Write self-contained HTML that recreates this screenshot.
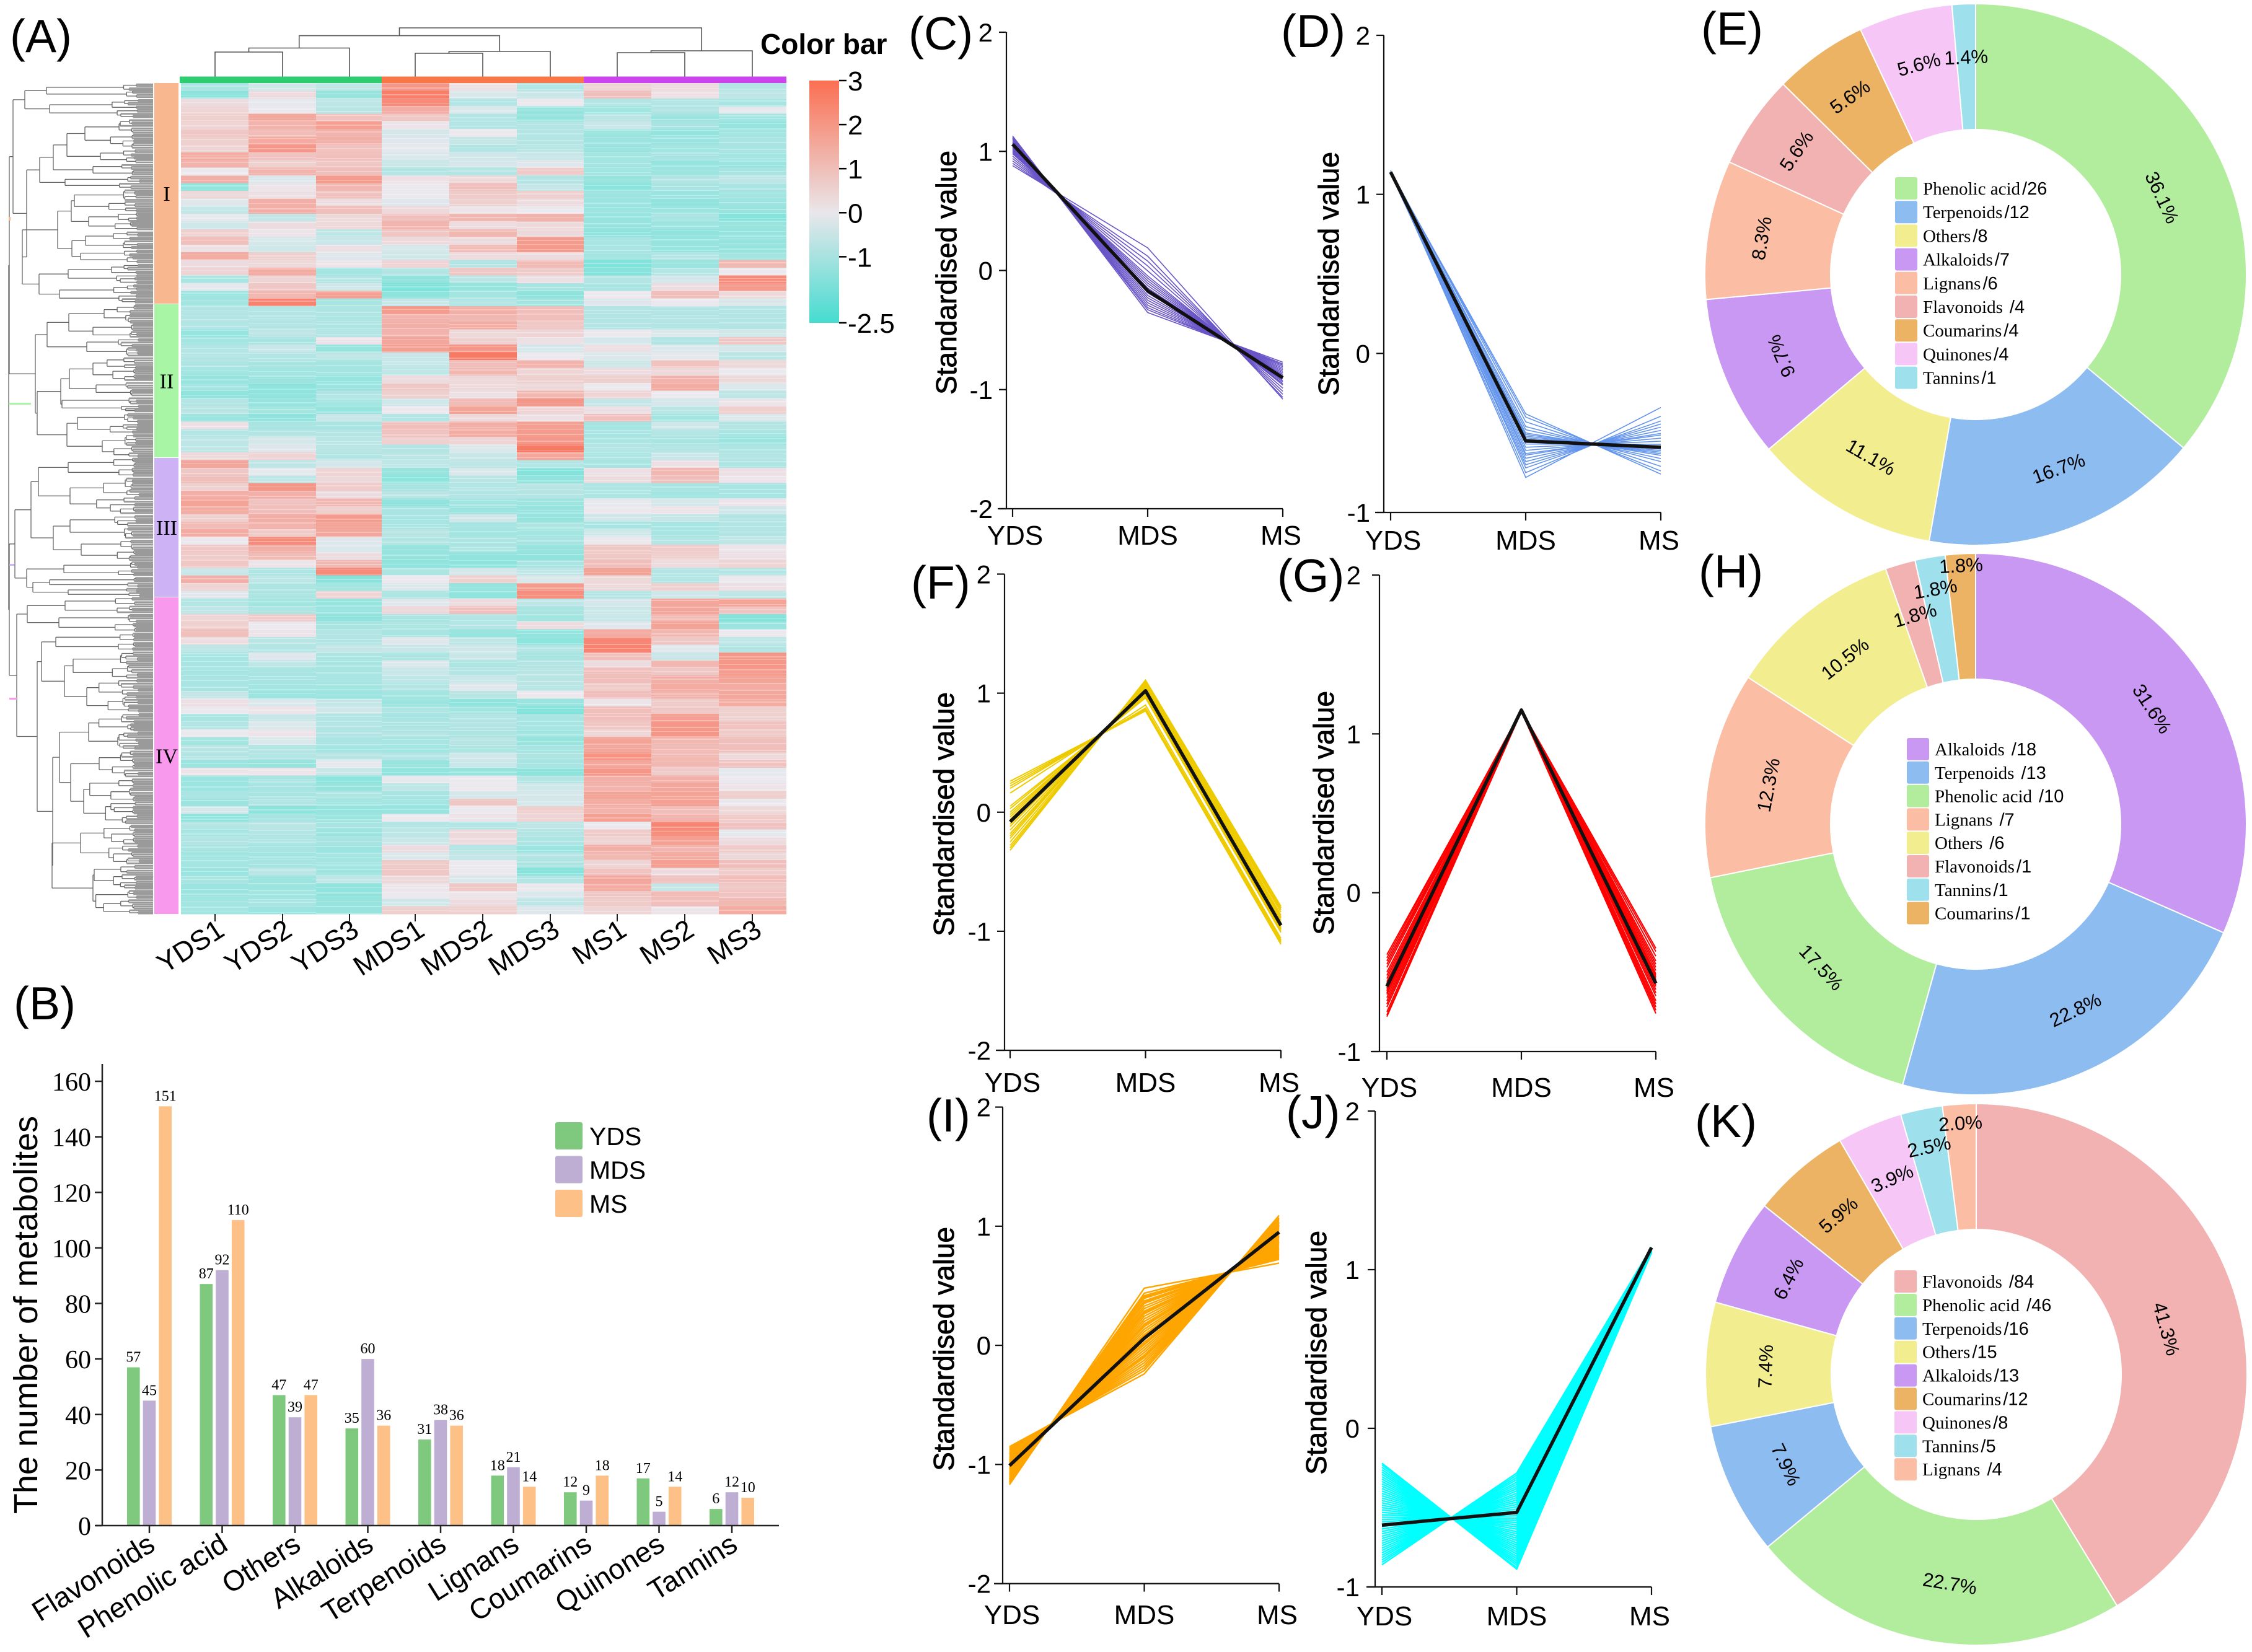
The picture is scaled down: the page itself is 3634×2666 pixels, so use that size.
<!DOCTYPE html>
<html lang="en">
<head>
<meta charset="utf-8">
<title>Metabolite heatmap, clusters and class composition</title>
<style>
html,body{margin:0;padding:0;background:#fff;}
svg{display:block;font-family:"Liberation Sans",Arial,sans-serif;}
</style>
</head>
<body>
<svg id="figure" xmlns="http://www.w3.org/2000/svg" width="3634" height="2666" viewBox="0 0 3634 2666">
<defs id="defs">
<linearGradient id="cbar" x1="0" y1="0" x2="0" y2="1">
<stop offset="0" stop-color="#fb6f52"/>
<stop offset="0.545" stop-color="#e9e6ea"/>
<stop offset="1" stop-color="#45dcd0"/>
</linearGradient>
</defs>
<rect x="0" y="0" width="3634" height="2666" fill="#fff"/>
<g font-size="75" fill="#000">
<text x="16" y="84">(A)</text>
<text x="22" y="1645">(B)</text>
<text x="1466" y="80">(C)</text>
<text x="2067" y="76">(D)</text>
<text x="2745" y="72">(E)</text>
<text x="1470" y="966">(F)</text>
<text x="2061" y="955">(G)</text>
<text x="2741" y="948">(H)</text>
<text x="1495" y="1826">(I)</text>
<text x="2075" y="1821">(J)</text>
<text x="2735" y="1835">(K)</text>
</g>
<text x="1227" y="87" font-size="46" font-weight="bold">Color bar</text>
</svg>
<script>
/* ---------- heatmap data (z-scores) ---------- */
const heatColumns = ['YDS1','YDS2','YDS3','MDS1','MDS2','MDS3','MS1','MS2','MS3'];
const colorbarTicks = [3,2,1,0,-1,-2.5];
const clusterNames = ['I','II','III','IV'];
const heatRows = [
[-1.2,-.5,-.8,2,.2,-1,.5,.3,-1],[-1.7,.3,-1.5,2.6,-.3,-.6,1,.2,-.8],[.3,-.1,-.8,2.3,-1,0,-1,-1,-1.2],[.5,0,-.9,1.5,-.3,-1.5,-1.3,-1,-.1],
[.6,1.6,.9,.8,-1,-1.5,-.9,-1.4,-1.3],[.5,1.3,1.8,.1,-1,-1,-.6,-1.2,-1.5],[.8,1.1,1.3,-.4,0,-1,-1.4,-1.5,-1.3],[.6,1.5,1.4,-.2,-.7,-1,-1.4,-1.4,-1.2],
[.5,2,.9,-.1,-1,-.9,-1.4,-1.3,-1.2],[1.5,.9,1,-.3,-.5,-.6,-1.3,-1.2,-1.3],[1.3,.6,.8,-.6,-.4,-.2,-1.3,-1.5,-1.4],[0,1.3,1,-1,-1,.7,-1.3,-1.4,-1.2],
[1.4,-.3,1.9,.2,.4,-1,-1.5,-1,-.8],[-1.6,.1,1.2,0,1,-.7,-1.7,-1.2,-1.2],[.4,.2,.9,0,.7,.6,-1.4,-1.4,-1.3],[-.2,1.4,.3,-.2,.6,.3,-1.4,-1.6,-1.4],
[-.7,1.4,1,.4,.1,0,-1.4,-1.4,-1.5],[-.1,-.7,.4,1,1.2,1.3,-1.5,-1.2,-1.8],[-.5,.3,.4,1.3,.3,.4,-1.5,-1.4,-1.5],[.6,.1,-.8,.8,1.2,.4,-1.6,-1.6,-1.5],
[1,-.4,-.6,.4,.3,1.9,-1.2,-1.5,-1.5],[.2,-.5,.2,-.4,1.1,1.9,-1.2,-1.5,-1.5],[1.5,.6,-.2,-.5,.3,.3,-1.3,-1,-1.3],[.3,.4,.1,.5,-1,1.1,-1.9,-1.4,1.2],
[.5,1.5,-1.3,-1,.8,.7,-1.8,-1,0],[-1.2,.5,-1,-1.6,-.9,.2,-1,-.4,2.3],[-.1,.8,-.5,-1.9,-1.5,-1.2,-1.2,.3,1.9],[-1.4,1.2,1.8,-1.7,-1.3,-1.6,0,1,.4],
[-1.3,2.5,-1.2,-.7,-1,-1.3,-.2,0,-.3],[-1,-1,-1.1,1.9,1.4,1,-1,-1,-1],[-1,-1,-1.1,1.3,1.2,1,-1,-1,-1],[-1,-1,-1.1,1.4,1.5,.8,-1,-1,-1],
[-1.5,-.8,-1,1.3,.4,.5,0,-.3,-.5],[-1.3,-1.2,.1,1.6,.6,.2,-.4,-1,.8],[-1,-.6,-1.5,1.8,2,-.4,.2,-.3,-.4],[-1,-1,-.8,-.6,2.7,0,-.3,-.1,-.9],

[-1.1,-1.2,-1.3,-.7,1,1.3,-.5,.9,.4],[-1.3,-1.3,-1.3,-.8,1.2,.5,.3,.4,0],[-1.5,-1.4,-1.5,.3,.4,.6,.6,1.3,.4],[-1.3,-1.7,-1.4,.8,.4,.4,0,1.5,-.3],
[-1.6,-1.6,-1,.6,.2,1.2,.5,0,-.8],[-1,-1.5,-1.3,-.5,1.1,2,-.7,-.4,.1],[-.9,-1.3,-1.5,0,1.7,.5,.2,-.9,.6],[-1.4,-1.6,-.6,-1,.4,.2,1,-1.3,-.3],
[.2,-1.2,-1.2,1,1.4,1.8,-1.3,-.5,-1],[-1,-1,-1,.9,1.5,1.9,-1.2,-1,-1.2],[-.8,-.4,-.9,.6,.5,2,-1.1,-1.2,-1.4],[-.8,-.2,-.9,-1,-.3,2.7,-1,-1,-1.1],
[.4,.5,-1,-.9,-.6,1.6,-1.1,-.6,-1],[1.6,-.8,-.4,-.8,-.8,-1,-1.2,.2,-1.1],[.8,-.1,.5,-1.5,-.3,-1.8,.2,1.2,.2],[1,-.8,.4,-1.7,-.9,-1.6,.3,1,.1],
[.6,2,.7,-1.2,-1,-.9,-1.1,-1.2,-1.2],[1.4,1.4,.3,-.9,-1,-1,-1.1,-1.3,-1.2],[1.7,.9,1.2,-1.6,-1.3,-1.4,-.1,-.4,.1],[1.5,1,.6,-1.2,-1.4,-1.5,0,.1,-.5],
[.6,1.4,1.9,-1.2,-.5,-1.5,-.5,-.7,-1],[1.1,1.3,1.7,-1.2,-1.2,-1.1,-1.2,-1.2,-1],[1.5,.7,1.6,-.9,-1.3,-1.3,-.5,-1.2,-1],[0,2.3,-.2,-1,-1.1,-1.2,0,-1,-.8],
[.8,1.4,-.3,-1.5,-1.1,-1.5,.8,.7,.1],[.7,1.1,.3,-1.5,-1.6,-1.6,.8,.6,.2],[.8,.1,1.2,-1.6,-1.7,-1.2,1,.3,.5],[-.6,-1.1,2.3,-1.1,-.4,-.8,1.7,-1,-1],
[1.4,-.8,-1.8,0,.6,-.3,.4,-1,0],[.5,-1.1,-1.3,-.3,-1.5,1.9,.4,.6,.2],[-.2,-1.1,.5,-1.1,-1.6,2.2,-1,-.5,-.8],[-1,-1.3,-1.5,-.2,.3,-.8,-.4,1.6,1.7],
[-.8,-1.1,-1.4,.4,1,-1.2,-.6,1.6,.9],[.5,.7,-1.6,-1.2,-1,-1.3,-.6,1.2,-1.8],[.6,0,-1.2,-1.1,-1,.3,-.2,1.7,-1.4],[1,.1,-1,-1.2,-1.5,-1.6,1.5,1.2,0],

[.3,-.9,-1,-.2,-.8,-1.7,2.4,.8,-.8],[-.8,-1,-.7,-.6,-.5,-1,2.5,-.2,-1],[-1.2,-.2,-1.1,-1.1,-.6,-1.2,1,-.6,2],[-1.2,-.8,-1.2,-.3,-1.1,-1,.3,1.2,2],
[-1.2,-1.2,-1.2,-.6,-1,-.9,1,.8,1.9],[-1.2,-1.2,-1.2,-.8,-.6,-.9,1,1.4,1.7],[-1.2,-1.3,-1.3,-1,-.2,-.9,.7,1.5,1.5],[-.7,-1.4,-1.4,-1.3,-.9,0,1,1.3,1.6],
[.2,-.3,-.7,-1.4,-1.6,-1.4,.1,.7,1.5],[0,.1,-.5,-1.1,-1.3,-1.9,1,.8,.6],[-1.2,-.6,-1,-1.2,-1,-1.2,1,1.8,.6],[-1,-.3,-1,-1.1,-1,-1.2,.8,2,.9],
[0,.1,-1,-1,-1.1,-1.3,.5,2,.7],[-1.3,-.3,-1.2,-1.2,-.9,-1.5,1.7,1.2,1],[-.9,-1,-1.3,-1.3,-1.1,-1.2,1.6,1.1,1],[-1,-1,-.9,-1,-.5,-1.1,2.1,1.2,.4],
[-1.4,-1.5,-.1,-1.5,-.6,-1.2,1.6,1.2,.9],[.1,.1,-.6,-1.6,-1.5,-1.7,2,.7,-.1],[-1.4,-1.2,-1.7,-.1,0,-1,1.4,1.4,0],[-1.4,-1.2,-1.5,-.8,0,-.5,1.3,1.6,.1],
[-1.2,-1.2,-1.1,-1.2,-.4,-.4,1.7,1.7,.6],[-1.4,-1,-1.3,-1.3,.8,-.4,1.5,1.8,0],[-.4,-1.7,-1.5,-1.5,0,.6,1.3,1,.4],[-1.6,-1.2,-1.4,0,.1,.5,1.8,1.3,.7],
[-1,-.9,-1.2,-1,-1,-.8,0,2.4,.9],[-1.2,-1,-1.4,-.8,.4,-1,.7,2.2,-.1],[-1,-1.1,-1.2,-.6,.3,-1.1,.5,1.8,.3],[-1.2,-1.2,-1.4,.3,-1,-1.4,1.4,1.3,.7],
[-1.3,-1.3,-1.3,-.3,-.7,-1,1.2,1.5,.4],[-1.3,-1.2,-1.3,.7,0,-1.1,.5,1.8,1],[-1.4,-.9,-1.3,.8,0,-1.8,.9,.3,.7],[-1.2,-1.4,-.8,.4,-.3,-1,1.6,.9,1],
[-1.4,-1.4,-1.6,.1,.8,0,1.5,-.7,.8],[-1.4,-1.3,-1.6,0,.1,-.3,.8,1.1,.9],[-1.3,-1.2,-1.5,-.5,.3,-.8,.7,1,1.2],[-1.3,-1.4,-1.5,.6,.6,-.2,.5,.1,1.5]
];

/* ---------- dendrogram branch heights ---------- */
const topTreeLeaves = [347,456,564,670,779,888,996,1105,1214];
const leftTreeI = [21,[40,[75,135,158],[80,160,191]],[43,[64,[86,[108,[137,192,240],[162,241,264]],[150,265,283]],[105,284,305]],[36,[93,[115,[120,306,342],[143,343,372]],[116,[138,373,402],[130,403,425]]],[63,[110,426,458],[96,459,490]]]]];
const leftTreeII = [57,[76,[111,[168,491,522],[150,523,545]],[140,546,575]],[60,[98,[112,[150,576,615],[155,616,640]],[100,641,665]],[108,[125,666,700],[165,701,738]]]];
const leftTreeIII = [24,[50,[62,[110,739,770],[113,771,830]],[86,[113,831,870],[131,871,905]]],[43,[103,906,930],[53,[80,931,948],[110,949,963]]]];
const leftTreeIV = [27,[44,[105,964,990],[95,991,1020]],[60,[67,[90,1021,1050],[104,[118,1051,1095],[140,1096,1150]]],[85,[96,[143,1151,1210],[114,[160,1211,1255],[135,1256,1330]]],[84,[130,1331,1395],[150,1396,1475]]]]];
const combSplits = [.5,.38,.62,.45,.3,.55,.7,.42,.58,.35];
const combJitter = [1,.8,1.15,.9,1.05,.75,1.2];

/* ---------- bar chart data ---------- */
const barCategories = ['Flavonoids','Phenolic acid','Others','Alkaloids','Terpenoids','Lignans','Coumarins','Quinones','Tannins'];
const barYDS = [57,87,47,35,31,18,12,17,6];
const barMDS = [45,92,39,60,38,21,9,5,12];
const barMS = [151,110,47,36,36,14,18,14,10];
const barTicks = [0,20,40,60,80,100,120,140,160];
const barSeriesNames = ['YDS','MDS','MS'];

/* ---------- line-cluster data: [YDS, MDS, MS] standardised values ---------- */
const stages = ['YDS','MDS','MS'];
const linesC = [[1.13,-.353,-.77],[1.12,-.33,-.785],[1.11,-.312,-.796],[1.1,-.292,-.808],[1.09,-.271,-.821],[1.08,-.25,-.834],[1.07,-.23,-.847],[1.06,-.209,-.86],[1.05,-.188,-.873],[1.04,-.168,-.885],[1.03,-.147,-.898],[1.02,-.127,-.911],[1.01,-.106,-.924],[1,-.086,-.936],[.99,-.065,-.95],[.98,-.045,-.962],[.96,-.003,-.988],[.94,.038,-1.014],[.92,.079,-1.039],[.9,.12,-1.065],[.88,.19,-1.08]];
const meanC = [1.06,-.17,-.9];
const linesD = [[1.14,-.38,-.759],[1.14,-.4,-.739],[1.15,-.43,-.71],[1.14,-.46,-.68],[1.14,-.48,-.661],[1.13,-.5,-.641],[1.14,-.51,-.631],[1.14,-.52,-.621],[1.15,-.53,-.611],[1.14,-.54,-.602],[1.14,-.55,-.592],[1.14,-.56,-.582],[1.13,-.57,-.572],[1.14,-.59,-.552],[1.14,-.61,-.533],[1.15,-.63,-.513],[1.14,-.64,-.503],[1.14,-.66,-.484],[1.14,-.68,-.464],[1.13,-.7,-.444],[1.14,-.72,-.425],[1.14,-.75,-.395],[1.15,-.78,-.34]];
const meanD = [1.14,-.55,-.59];
const linesF = [[.26,.85,-1.11],[.24,.855,-1.095],[.22,.865,-1.085],[.2,.875,-1.075],[.16,.9,-1.06],[.05,.96,-1.01],[.03,.97,-1],[0,.985,-.985],[-.02,1,-.98],[-.04,1.01,-.97],[-.06,1.02,-.96],[-.08,1.03,-.95],[-.1,1.04,-.94],[-.12,1.05,-.93],[-.15,1.06,-.91],[-.18,1.07,-.89],[-.2,1.08,-.88],[-.22,1.085,-.865],[-.25,1.09,-.84],[-.28,1.1,-.82],[-.3,1.105,-.805],[-.32,1.11,-.79]];
const meanF = [-.08,1.02,-.95];
const linesG = [[-.78,1.14,-.37],[-.75,1.15,-.4],[-.72,1.15,-.43],[-.7,1.15,-.45],[-.68,1.15,-.47],[-.66,1.15,-.49],[-.64,1.15,-.51],[-.63,1.155,-.52],[-.62,1.15,-.53],[-.61,1.15,-.54],[-.6,1.15,-.55],[-.59,1.15,-.56],[-.58,1.15,-.57],[-.57,1.15,-.58],[-.56,1.15,-.59],[-.54,1.15,-.61],[-.52,1.15,-.63],[-.5,1.15,-.65],[-.47,1.15,-.68],[-.45,1.15,-.7],[-.43,1.14,-.72],[-.41,1.15,-.74],[-.39,1.14,-.76],[-.77,1.15,-.35]];
const meanG = [-.59,1.15,-.57];
const linesI = [[-1.17,.48,.69],[-1.16,.438,.722],[-1.15,.417,.733],[-1.145,.406,.739],[-1.14,.395,.745],[-1.13,.373,.757],[-1.125,.363,.762],[-1.12,.352,.768],[-1.11,.33,.78],[-1.1,.309,.791],[-1.09,.287,.803],[-1.085,.276,.809],[-1.08,.265,.815],[-1.07,.244,.826],[-1.06,.222,.838],[-1.05,.2,.85],[-1.04,.179,.861],[-1.035,.168,.867],[-1.03,.157,.873],[-1.02,.135,.885],[-1.01,.114,.896],[-1,.092,.908],[-.995,.081,.914],[-.99,.07,.92],[-.98,.049,.931],[-.97,.027,.943],[-.965,.016,.949],[-.96,.005,.955],[-.95,-.016,.966],[-.94,-.038,.978],[-.93,-.06,.99],[-.92,-.081,1.001],[-.915,-.092,1.007],[-.91,-.103,1.013],[-.9,-.125,1.025],[-.89,-.146,1.036],[-.88,-.168,1.048],[-.87,-.19,1.06],[-.86,-.211,1.071],[-.85,-.24,1.09]];
const meanI = [-1.01,.06,.95];
const linesJ = [[-.86,-.282,1.142],[-.845,-.296,1.14],[-.83,-.31,1.14],[-.815,-.324,1.139],[-.8,-.339,1.139],[-.785,-.353,1.138],[-.77,-.367,1.137],[-.755,-.381,1.136],[-.74,-.395,1.135],[-.725,-.41,1.135],[-.71,-.424,1.134],[-.695,-.438,1.133],[-.68,-.452,1.132],[-.665,-.466,1.131],[-.65,-.48,1.13],[-.635,-.495,1.13],[-.62,-.509,1.129],[-.605,-.523,1.128],[-.59,-.537,1.127],[-.575,-.551,1.126],[-.56,-.566,1.126],[-.545,-.58,1.125],[-.53,-.594,1.124],[-.515,-.608,1.123],[-.5,-.622,1.122],[-.485,-.636,1.121],[-.47,-.651,1.121],[-.455,-.665,1.12],[-.44,-.679,1.119],[-.425,-.693,1.118],[-.41,-.707,1.117],[-.395,-.722,1.117],[-.38,-.736,1.116],[-.365,-.75,1.115],[-.35,-.764,1.114],[-.335,-.778,1.113],[-.32,-.792,1.112],[-.305,-.807,1.112],[-.29,-.821,1.111],[-.275,-.835,1.11],[-.26,-.849,1.109],[-.245,-.863,1.108],[-.23,-.878,1.108],[-.22,-.887,1.107]];
const meanJ = [-.61,-.53,1.14];

/* ---------- donut data ---------- */
const classColors = {'Phenolic acid':'#b2ed9d','Terpenoids':'#8dbcf1','Others':'#f2ed8e','Alkaloids':'#c998f3','Lignans':'#fcbda5','Flavonoids':'#f3b2b2','Coumarins':'#ebb363','Quinones':'#f6c6f6','Tannins':'#9ee0eb'};
const namesE = ['Phenolic acid','Terpenoids','Others','Alkaloids','Lignans','Flavonoids','Coumarins','Quinones','Tannins'];
const countsE = [26,12,8,7,6,4,4,4,1];
const percentE = [36.1,16.7,11.1,9.7,8.3,5.6,5.6,5.6,1.4];
const namesH = ['Alkaloids','Terpenoids','Phenolic acid','Lignans','Others','Flavonoids','Tannins','Coumarins'];
const countsH = [18,13,10,7,6,1,1,1];
const percentH = [31.6,22.8,17.5,12.3,10.5,1.8,1.8,1.8];
const namesK = ['Flavonoids','Phenolic acid','Terpenoids','Others','Alkaloids','Coumarins','Quinones','Tannins','Lignans'];
const countsK = [84,46,16,15,13,12,8,5,4];
const percentK = [41.3,22.7,7.9,7.4,6.4,5.9,3.9,2.5,2.0];

/* ---------- helpers ---------- */
const NS = 'http://www.w3.org/2000/svg';
const fig = document.getElementById('figure');
function el(tag, attrs, parent) {
  const e = document.createElementNS(NS, tag);
  for (const k in attrs) e.setAttribute(k, attrs[k]);
  (parent || fig).appendChild(e);
  return e;
}
function linear(d0, d1, r0, r1) { return v => r0 + (v - d0) * (r1 - r0) / (d1 - d0); }

/* ---------- panel A: heatmap ---------- */
const heatLeft = 292, heatRight = 1269, heatTop = 134, heatBottom = 1475;
const colEdges = [292,401,510,616,725,834,942,1051,1160,1269];
const rowY = linear(0, heatRows.length, heatTop, heatBottom);
const stopNeg = [64,224,208], stopMid = [235,232,238], stopPos = [250,110,85];
function heatColor(v) {
  let c;
  if (v < 0) { const t = Math.min(1, -v * .82 / 2.5); c = stopMid.map((m, i) => m + (stopNeg[i] - m) * t); }
  else { const t = Math.min(1, v / 3); c = stopMid.map((m, i) => m + (stopPos[i] - m) * t); }
  return 'rgb(' + c.map(Math.round).join(',') + ')';
}
const heatGroup = el('g', {'shape-rendering':'crispEdges'});


heatRows.forEach((row, r) => {
  row.forEach((v, c) => {
    const cell = el('rect', {x: colEdges[c], y: rowY(r), width: colEdges[c + 1] - colEdges[c], height: rowY(r + 1) - rowY(r) + .5, fill: heatColor(v)}, heatGroup);
    
    
  });
});
/* fine row striping texture */
const defs = document.getElementById('defs');
heatColumns.forEach((name, c) => {
  const p = el('pattern', {id: 'st' + c, width: 977, height: 97, patternUnits: 'userSpaceOnUse', patternTransform: 'translate(0,' + (c * 37 + 134) + ')'}, defs);
  [4,11,19,23,31,40,47,52,60,68,75,83,90].forEach((y, i) => {
    el('rect', {x: 0, y: y, width: 977, height: i % 3 === 0 ? 2 : 1, fill: '#fff', opacity: .28}, p);
  });
  const tex = el('rect', {x: colEdges[c], y: heatTop, width: colEdges[c + 1] - colEdges[c], height: heatBottom - heatTop, fill: 'url(#st' + c + ')'});
  
  
});
/* column group bar */
[[290,616,'#2ecc71'],[616,942,'#f97646'],[942,1269,'#cb44ee']].forEach(g => {
  const r = el('rect', {x: g[0], y: 123.5, width: g[1] - g[0], height: 10.5, fill: g[2]});
  
  
});
/* cluster annotation bar */
[[134,490,'#f9b78f'],[491,738,'#a8f5a5'],[739,963,'#cdb2f5'],[964,1475,'#f899ee']].forEach((s, i) => {
  const r = el('rect', {x: 249, y: s[0], width: 39, height: s[1] - s[0], fill: s[2]});
  
  
  const t = el('text', {x: 269, y: (s[0] + s[1]) / 2 + 12, 'font-size': 34, 'font-family': '"Liberation Serif",serif', 'text-anchor': 'middle'});
  t.textContent = clusterNames[i];
  
  
});
/* heatmap column ticks + labels */
heatColumns.forEach((name, i) => {
  const x = topTreeLeaves[i];
  const tk = el('line', {x1: x, x2: x, y1: 1475, y2: 1487, stroke: '#222', 'stroke-width': 2});
  
  
  const t = el('text', {transform: 'translate(' + (x + 18) + ',1508) rotate(-33)', 'font-size': 45, 'text-anchor': 'end'});
  t.textContent = name;
  
  
});
/* top dendrogram, merges drawn bottom-up */
let topD = '';
function bracket(xa, ya, xb, yb, h) { return 'M' + xa + ' ' + ya + 'V' + h + 'H' + xb + 'V' + yb; }
const leafBase = 123.5, L = topTreeLeaves;
topD += bracket(L[0], leafBase, L[1], leafBase, 84);
const n1 = (L[0] + L[1]) / 2;
topD += bracket(n1, 84, L[2], leafBase, 77.5);
const n2 = (n1 + L[2]) / 2;
topD += bracket(L[3], leafBase, L[4], leafBase, 86);
const n3 = (L[3] + L[4]) / 2;
topD += bracket(n3, 86, L[5], leafBase, 83);
const n4 = (n3 + L[5]) / 2;
topD += bracket(L[6], leafBase, L[7], leafBase, 85);
const n5 = (L[6] + L[7]) / 2;
topD += bracket(n5, 85, L[8], leafBase, 82);
const n6 = (n5 + L[8]) / 2;
topD += bracket(n2, 77.5, n4, 83, 57.6);
const n7 = (n2 + n4) / 2;
topD += bracket(n7, 57.6, n6, 82, 45);
const topTree = el('path', {d: topD, fill: 'none', stroke: '#555', 'stroke-width': 1.6});


/* left dendrogram */
let branchD = '', leafD = '', splitIdx = 0, jitIdx = 0;
const leafEnd = 247, rowStep = 3.1;
function comb(x0, y0, y1) {
  const h = y1 - y0;
  if (h <= rowStep * 1.4) {
    const y = (y0 + y1) / 2;
    leafD += 'M' + x0.toFixed(1) + ' ' + y.toFixed(1) + 'H' + leafEnd;
    return y;
  }
  const s = combSplits[splitIdx++ % combSplits.length];
  const j = combJitter[jitIdx++ % combJitter.length];
  const nx = Math.max(x0 + 2, leafEnd - 14 * Math.sqrt(h) * j);
  const ym = y0 + h * s;
  const ya = comb(nx, y0, ym), yb = comb(nx, ym, y1);
  const y = (ya + yb) / 2;
  branchD += 'M' + x0.toFixed(1) + ' ' + y.toFixed(1) + 'H' + nx.toFixed(1) + 'M' + nx.toFixed(1) + ' ' + ya.toFixed(1) + 'V' + yb.toFixed(1);
  return y;
}
function walk(node, parentX) {
  if (typeof node[1] === 'number') {
    const h = node[2] - node[1], s = .5;
    const ym = node[1] + h * s;
    const ya = comb(node[0], node[1], ym), yb = comb(node[0], ym, node[2]);
    const y = (ya + yb) / 2;
    branchD += 'M' + node[0] + ' ' + ya.toFixed(1) + 'V' + yb.toFixed(1) + 'M' + parentX + ' ' + y.toFixed(1) + 'H' + node[0];
    return y;
  }
  const ya = walk(node[1], node[0]), yb = walk(node[2], node[0]);
  const y = (ya + yb) / 2;
  branchD += 'M' + node[0] + ' ' + ya.toFixed(1) + 'V' + yb.toFixed(1) + 'M' + parentX + ' ' + y.toFixed(1) + 'H' + node[0];
  return y;
}
walk([14,[15,leftTreeI,leftTreeII],[15,leftTreeIII,leftTreeIV]], 14);
const leftBranches = el('path', {d: branchD, fill: 'none', stroke: '#666', 'stroke-width': 1.3});


const leftLeaves = el('path', {d: leafD, fill: 'none', stroke: '#9a9a9a', 'stroke-width': 2.8});


[[14,350,3,6,'#f9b78f'],[14,650,36,3,'#a8f5a5'],[15,910,8,3,'#cdb2f5'],[15,1126,12,3,'#f899ee']].forEach(m => {
  const r = el('rect', {x: m[0], y: m[1], width: m[2], height: m[3], fill: m[4]});
  
  
});
/* colour bar */
const cbarRect = el('rect', {x: 1306, y: 130, width: 48, height: 391, fill: 'url(#cbar)'});


const cbarY = linear(3, -2.5, 130, 521);
colorbarTicks.forEach(v => {
  const tk = el('line', {x1: 1354, x2: 1366, y1: cbarY(v), y2: cbarY(v), stroke: '#000', 'stroke-width': 2.5});
  
  
  const t = el('text', {x: 1368, y: cbarY(v) + 16, 'font-size': 44});
  t.textContent = v;
  
  
});

/* ---------- panel B: bar chart ---------- */
const barG = el('g', {});


const barX = linear(0, barCategories.length - 1, 241, 1181);
const barY = linear(0, 160, 2462, 1745);
const barColors = ['#7fc97f','#beaed4','#fdc086'];
[barYDS, barMDS, barMS].forEach((series, s) => {
  series.forEach((v, i) => {
    const cx = barX(i) + (s - 1) * 25.7;
    const b = el('rect', {x: cx - 10.3, y: barY(v), width: 20.6, height: barY(0) - barY(v), fill: barColors[s]}, barG);
    
    
    const t = el('text', {x: cx, y: barY(v) - 9, 'font-size': 24, 'font-family': '"Liberation Serif",serif', 'text-anchor': 'middle'}, barG);
    t.textContent = v;
    
    
  });
});
const barYAxis = el('line', {x1: 165, x2: 165, y1: 1717, y2: 2462, stroke: '#222', 'stroke-width': 2.5}, barG);


const barXAxis = el('line', {x1: 154, x2: 1257, y1: 2462, y2: 2462, stroke: '#222', 'stroke-width': 2.5}, barG);


barTicks.forEach(v => {
  const tk = el('line', {x1: 153, x2: 165, y1: barY(v), y2: barY(v), stroke: '#222', 'stroke-width': 2.5}, barG);
  
  
  const t = el('text', {x: 147, y: barY(v) + 15, 'font-size': 42, 'font-family': '"Liberation Serif",serif', 'text-anchor': 'end'}, barG);
  t.textContent = v;
  
  
});
barCategories.forEach((name, i) => {
  const x = barX(i);
  const tk = el('line', {x1: x, x2: x, y1: 2462, y2: 2474, stroke: '#222', 'stroke-width': 2.5}, barG);
  
  
  const t = el('text', {transform: 'translate(' + (x + 12) + ',2500) rotate(-32)', 'font-size': 46, 'text-anchor': 'end'}, barG);
  t.textContent = name;
  
  
});
const barTitle = el('text', {transform: 'translate(60,2122) rotate(-90)', 'font-size': 54, 'text-anchor': 'middle'}, barG);
barTitle.textContent = 'The number of metabolites';


barSeriesNames.forEach((name, i) => {
  const sy = 1811 + i * 54.5;
  const r = el('rect', {x: 896, y: sy, width: 44, height: 44, rx: 3, fill: barColors[i]}, barG);
  
  
  const t = el('text', {x: 951, y: sy + 37, 'font-size': 41}, barG);
  t.textContent = name;
  
  
});

/* ---------- line cluster panels ---------- */
function linePanel(key, cfg, lines, mean) {
  const g = el('g', {});
  
  
  const xS = linear(0, 2, cfg.x0, cfg.x1);
  const yS = linear(cfg.min, 2, cfg.yBot, cfg.yTop);
  const toPts = a => a.map((v, i) => xS(i).toFixed(1) + ',' + yS(v).toFixed(1)).join(' ');
  lines.forEach(l => {
    const p = el('polyline', {points: toPts(l), fill: 'none', stroke: cfg.color, 'stroke-width': cfg.sw}, g);
    
    
  });
  const m = el('polyline', {points: toPts(mean), fill: 'none', stroke: '#111', 'stroke-width': 5.5, 'stroke-linejoin': 'round'}, g);
  
  
  const ya = el('line', {x1: cfg.ax, x2: cfg.ax, y1: cfg.yTop, y2: cfg.yBot, stroke: '#111', 'stroke-width': 2.2}, g);
  
  
  const xa = el('line', {x1: cfg.ax - 14, x2: cfg.x1, y1: cfg.yBot, y2: cfg.yBot, stroke: '#111', 'stroke-width': 2.2}, g);
  
  
  for (let v = cfg.min; v <= 2; v++) {
    const tk = el('line', {x1: cfg.ax - 12, x2: cfg.ax, y1: yS(v), y2: yS(v), stroke: '#111', 'stroke-width': 2.2}, g);
    
    
    const t = el('text', {x: cfg.ax - cfg.labGap, y: yS(v) + 15, 'font-size': 42, 'text-anchor': 'end'}, g);
    t.textContent = v;
    
    
  }
  stages.forEach((name, i) => {
    const tk = el('line', {x1: xS(i), x2: xS(i), y1: cfg.yBot, y2: cfg.yBot + 13, stroke: '#111', 'stroke-width': 2.2}, g);
    
    
    const t = el('text', {x: xS(i) + [4, 0, -3][i], y: cfg.labY, 'font-size': 44, 'text-anchor': 'middle'}, g);
    t.textContent = name;
    
    
  });
  const title = el('text', {transform: 'translate(' + cfg.titleX + ',' + cfg.titleY + ') rotate(-90)', 'font-size': 46, 'text-anchor': 'middle', stroke: '#000', 'stroke-width': .8}, g);
  title.textContent = 'Standardised value';
  
  
}
linePanel('c', {ax:1624,x0:1634,x1:2070,yTop:52,yBot:821,min:-2,color:'#6a55c8',sw:1.6,labGap:22,labY:879,titleX:1543,titleY:440}, linesC, meanC);
linePanel('d', {ax:2233,x0:2244,x1:2680,yTop:57,yBot:827,min:-1,color:'#6495ed',sw:1.6,labGap:22,labY:887,titleX:2160,titleY:442}, linesD, meanD);
linePanel('f', {ax:1621,x0:1630,x1:2067,yTop:926.5,yBot:1695,min:-2,color:'#eecb00',sw:2,labGap:22,labY:1762,titleX:1539,titleY:1314}, linesF, meanF);
linePanel('g', {ax:2226,x0:2238,x1:2672,yTop:928,yBot:1697,min:-1,color:'#ff0000',sw:2,labGap:30,labY:1770,titleX:2152,titleY:1312}, linesG, meanG);
linePanel('i', {ax:1618,x0:1629,x1:2064,yTop:1786.6,yBot:2555.6,min:-2,color:'#ffa500',sw:2.4,labGap:19,labY:2621,titleX:1539,titleY:2177}, linesI, meanI);
linePanel('j', {ax:2219,x0:2230,x1:2665,yTop:1793,yBot:2561,min:-1,color:'#00ffff',sw:2.4,labGap:25,labY:2623,titleX:2140,titleY:2183}, linesJ, meanJ);

/* ---------- donut panels ---------- */
function polar(cx, cy, r, deg) {
  const a = deg * Math.PI / 180;
  return [cx + r * Math.sin(a), cy - r * Math.cos(a)];
}
function donut(key, cfg, names, counts, percents) {
  const g = el('g', {});
  
  
  const R = 437, r = 234;
  const total = percents.reduce((a, b) => a + b, 0);
  let start = 0;
  names.forEach((name, i) => {
    const sweep = percents[i] / total * 360, end = start + sweep;
    const big = sweep > 180 ? 1 : 0;
    const a = polar(cfg.cx, cfg.cy, R, start), b = polar(cfg.cx, cfg.cy, R, end);
    const c = polar(cfg.cx, cfg.cy, r, end), d = polar(cfg.cx, cfg.cy, r, start);
    const s = el('path', {d: 'M' + a[0] + ' ' + a[1] + 'A' + R + ' ' + R + ' 0 ' + big + ' 1 ' + b[0] + ' ' + b[1] + 'L' + c[0] + ' ' + c[1] + 'A' + r + ' ' + r + ' 0 ' + big + ' 0 ' + d[0] + ' ' + d[1] + 'Z', fill: classColors[name], stroke: '#fff', 'stroke-width': 2}, g);
    
    
    start = end;
  });
  start = 0;
  names.forEach((name, i) => {
    const sweep = percents[i] / total * 360, mid = start + sweep / 2;
    const rad = (cfg.labelRadius && cfg.labelRadius[i]) || 340;
    const p = polar(cfg.cx, cfg.cy, rad, mid);
    const rot = (mid > 90 && mid < 246) ? mid - 180 : mid;
    const shift = (cfg.labelShift && cfg.labelShift[i]) || 0;
    const t = el('text', {transform: 'translate(' + p[0].toFixed(1) + ',' + p[1].toFixed(1) + ') rotate(' + rot.toFixed(1) + ') translate(' + shift + ',0)', 'font-size': 31, 'text-anchor': 'middle', 'dominant-baseline': 'central'}, g);
    t.textContent = percents[i].toFixed(1) + '%';
    
    
    start += sweep;
  });
  names.forEach((name, i) => {
    const sy = cfg.legY + i * cfg.legStep;
    const sw = el('rect', {x: cfg.legX, y: sy, width: 36, height: 36, rx: 3, fill: classColors[name]}, g);
    
    
    const t = el('text', {x: cfg.legX + 45, y: sy + 28, 'font-size': 29}, g);
    
    
    const a = el('tspan', {'font-family': '"Liberation Serif",serif'}, t);
    a.textContent = name;
    
    
    const gap = (cfg.wideGap && cfg.wideGap.indexOf(i) >= 0) ? 11 : 3;
    const b = el('tspan', {dx: gap}, t);
    b.textContent = '/' + counts[i];
    
    
  });
}
donut('e', {cx:3188,cy:443,legX:3058,legY:286,legStep:38.2,labelRadius:{0:325,7:351,8:351,6:351,5:351,4:350},labelShift:{0:15,1:18},wideGap:[5]}, namesE, countsE, percentE);
donut('h', {cx:3188,cy:1330,legX:3077,legY:1191,legStep:37.8,labelRadius:{5:351,6:385,7:418},labelShift:{1:17},wideGap:[0,1,2,3,4]}, namesH, countsH, percentH);
donut('k', {cx:3189,cy:2218,legX:3057,legY:2050,legStep:37.9,labelRadius:{0:315,6:344,7:375,8:406},labelShift:{0:12,1:14},wideGap:[0,1,8]}, namesK, countsK, percentK);
</script>
</body>
</html>
